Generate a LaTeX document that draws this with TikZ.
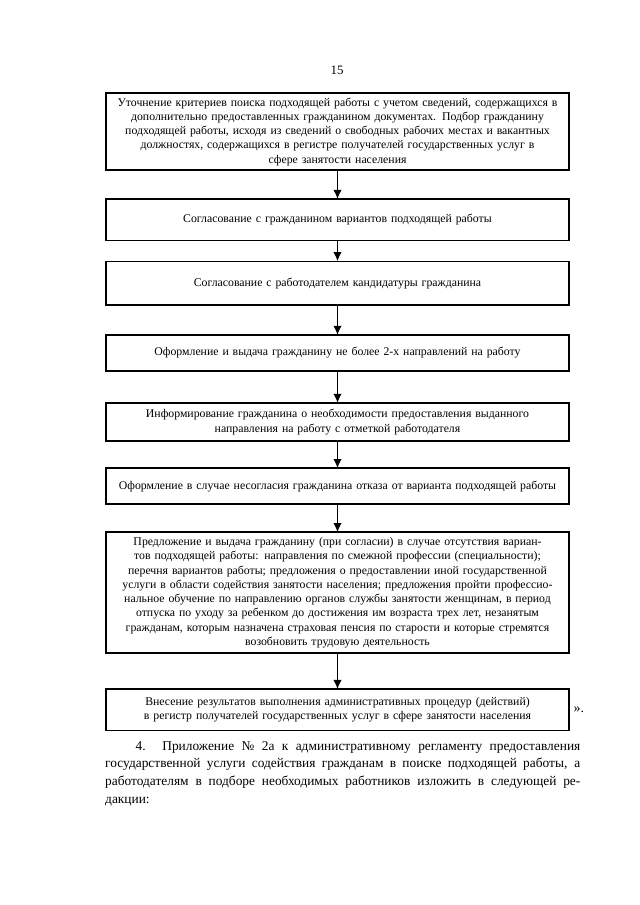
\documentclass[tikz,border=0pt]{standalone}
\usepackage{fontspec}
\setmainfont{Liberation Serif}
\usepackage{tikz}
\usetikzlibrary{positioning}
\usetikzlibrary{arrows.meta}

\tikzset{
  stagebox/.style={draw, line width=1.3pt, text width=150mm, minimum width=151.9mm,
    inner xsep=0.9mm, inner ysep=1mm, outer sep=0pt, align=center,
    font=\fontsize{11}{13.3}\selectfont},
  flowarrow/.style={-{Latex[length=3mm, width=2.8mm]}, line width=1.6pt},
}

\begin{document}
\begin{tikzpicture}[x=0.328125mm, y=-0.328125mm]
    \useasboundingbox (0,0) rectangle (640,905);
    % nodes %
    \node[font=\fontsize{12}{14}\selectfont] (pagenum) at (337,70) {15};
    \node[stagebox, anchor=north, minimum height=25.3mm] (s1) at (337.5,93)
      {Уточнение критериев поиска подходящей работы с учетом сведений, содержащихся в\\
       дополнительно предоставленных гражданином документах. Подбор гражданину\\
       подходящей работы, исходя из сведений о свободных рабочих местах и вакантных\\
       должностях, содержащихся в регистре получателей государственных услуг в\\
       сфере занятости населения};
    \node[stagebox, below=9.5mm of s1, minimum height=13.5mm] (s2)
      {Согласование с гражданином вариантов подходящей работы};
    \node[stagebox, below=6.9mm of s2, minimum height=14.4mm] (s3)
      {Согласование с работодателем кандидатуры гражданина};
    \node[stagebox, below=9.8mm of s3, minimum height=11.8mm] (s4)
      {Оформление и выдача гражданину не более 2-х направлений на работу};
    \node[stagebox, below=10.5mm of s4, minimum height=12.5mm] (s5)
      {Информирование гражданина о необходимости предоставления выданного\\
       направления на работу с отметкой работодателя};
    \node[stagebox, below=8.9mm of s5, minimum height=11.8mm] (s6)
      {Оформление в случае несогласия гражданина отказа от варианта подходящей работы};
    \node[stagebox, below=9.2mm of s6, minimum height=39.7mm] (s7)
      {Предложение и выдача гражданину (при согласии) в случае отсутствия вариан-\\
       тов подходящей работы: направления по смежной профессии (специальности);\\
       перечня вариантов работы; предложения о предоставлении иной государственной\\
       услуги в области содействия занятости населения; предложения пройти профессио-\\
       нальное обучение по направлению органов службы занятости женщинам, в период\\
       отпуска по уходу за ребенком до достижения им возраста трех лет, незанятым\\
       гражданам, которым назначена страховая пенсия по старости и которые стремятся\\
       возобновить трудовую деятельность};
    \node[stagebox, below=11.8mm of s7, minimum height=13.5mm] (s8)
      {Внесение результатов выполнения административных процедур (действий)\\
       в регистр получателей государственных услуг в сфере занятости населения};
    \node[right=0.3mm of s8, font=\fontsize{13}{16}\selectfont] (closeq) {».};
    \node[anchor=north west, text width=155.9mm, inner sep=0pt, align=justify,
      font=\fontsize{12.5}{16.5}\selectfont] (para) at (105,741)
      {\hspace*{10mm}4. Приложение № 2а к административному регламенту предоставления\linebreak
       государственной услуги содействия гражданам в поиске подходящей работы, а\linebreak
       работодателям в подборе необходимых работников изложить в следующей ре-\linebreak
       дакции:};
    % edges %
    \draw[flowarrow] (s1) -- (s2);
    \draw[flowarrow] (s2) -- (s3);
    \draw[flowarrow] (s3) -- (s4);
    \draw[flowarrow] (s4) -- (s5);
    \draw[flowarrow] (s5) -- (s6);
    \draw[flowarrow] (s6) -- (s7);
    \draw[flowarrow] (s7) -- (s8);
  \end{tikzpicture}
\end{document}
